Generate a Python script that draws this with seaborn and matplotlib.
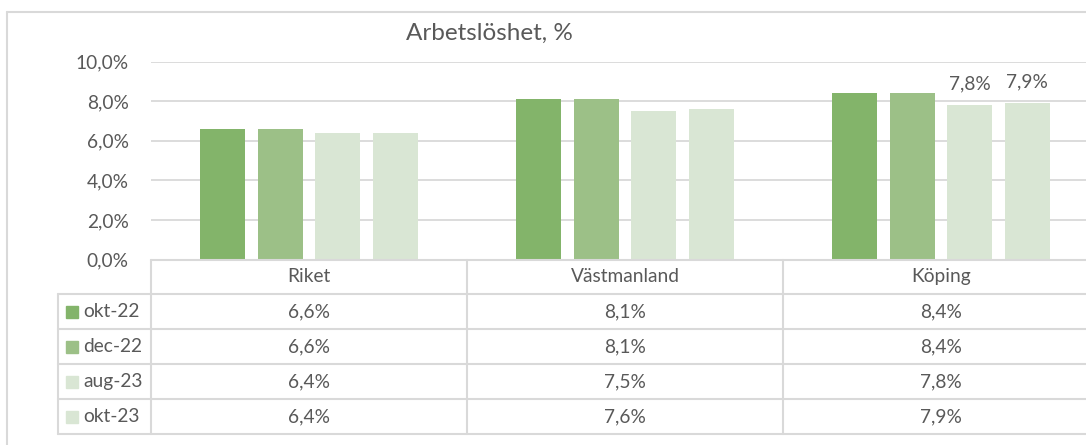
import matplotlib
matplotlib.use("Agg")
import matplotlib.pyplot as plt
from matplotlib.lines import Line2D
import seaborn as sns
import pandas as pd

# ---- data ----
regions = ["Riket", "Västmanland", "Köping"]
periods = ["okt-22", "dec-22", "aug-23", "okt-23"]
okt22 = [6.6, 8.1, 8.4]
dec22 = [6.6, 8.1, 8.4]
aug23 = [6.4, 7.5, 7.8]
okt23 = [6.4, 7.6, 7.9]
series = [okt22, dec22, aug23, okt23]
colors = ["#83B46A", "#9CC087", "#D9E6D4", "#D9E6D4"]
yticks = [0, 2, 4, 6, 8, 10]
title = "Arbetslöshet, %"

rows = []
for p, vals in zip(periods, series):
    for r, v in zip(regions, vals):
        rows.append({"region": r, "period": p, "value": v})
df = pd.DataFrame(rows)

sns.set_style("white")
plt.rcParams["font.family"] = ["Lato", "DejaVu Sans"]
TXT = "#595959"
GRID = "#D9D9D9"
FS = 13.8

W, H = 1086, 445
fig = plt.figure(figsize=(W / 100, H / 100), dpi=100)

def fmt(v):
    return f"{v:.1f}".replace(".", ",") + "%"

# main axes
y0, y10 = 259.5, 61.7
ax = fig.add_axes([151 / W, (H - y0) / H, 948 / W, (y0 - y10) / H])
sns.barplot(data=df, x="region", y="value", hue="period", palette=colors,
            width=0.728, gap=0.217, saturation=1, linewidth=0, legend=False, ax=ax)
ax.set_xlim(-0.5, 2.5)
ax.set_ylim(0, 10)
ax.set_yticks(yticks)
ax.set_yticklabels([fmt(t) for t in yticks], color=TXT, fontsize=FS)
ax.tick_params(axis="y", length=0, pad=16)
ax.set_xticks([])
ax.set_xlabel("")
ax.set_ylabel("")
for s in ax.spines.values():
    s.set_visible(False)
ax.grid(axis="y", color=GRID, linewidth=1.3)
ax.set_axisbelow(True)

# data labels only on Köping aug-23 / okt-23
for ci, cont in enumerate(ax.containers):
    if ci >= 2:
        labels = ["" if i < 2 else fmt(series[ci][i]) for i in range(len(regions))]
        ax.bar_label(cont, labels=labels, padding=9, color=TXT, fontsize=FS)

# data table
tbot = 434
lo = -0.5 - 93 / 316
tax = fig.add_axes([58 / W, (H - tbot) / H, (1099 - 58) / W, (tbot - y0) / H])
tax.set_xlim(lo, 2.5)
tax.set_ylim(5, 0)
tax.axis("off")
lk = dict(color=GRID, linewidth=1.5, clip_on=False)
tax.plot([-0.5, 2.6], [0, 0], **lk)
for r in range(1, 6):
    tax.plot([lo, 2.6], [r, r], **lk)
for xv in [-0.5, 0.5, 1.5, 2.5]:
    tax.plot([xv, xv], [0, 5], **lk)
tax.plot([lo, lo], [1, 5], **lk)
for i, reg in enumerate(regions):
    tax.text(i, 0.5, reg, ha="center", va="center", color=TXT, fontsize=FS)
for r, (p, vals, c) in enumerate(zip(periods, series, colors)):
    yc = r + 1.5
    tax.plot([lo + 14 / 316], [yc], marker="s", markersize=8.6, color=c,
             linestyle="none", clip_on=False)
    tax.text(lo + 25 / 316, yc, p, ha="left", va="center", color=TXT, fontsize=FS)
    for i, v in enumerate(vals):
        tax.text(i, yc, fmt(v), ha="center", va="center", color=TXT, fontsize=FS)

# title
fig.text(489 / W, 1 - 33 / H, title, ha="center", va="center", color=TXT, fontsize=17.5)

# outer chart border
fig.add_artist(Line2D([7 / W, 7 / W], [-0.02, 1 - 11.7 / H], color=GRID, linewidth=1.5))
fig.add_artist(Line2D([7 / W, 1.02], [1 - 11.7 / H, 1 - 11.7 / H], color=GRID, linewidth=1.5))

fig.savefig("out.png", dpi=100)
